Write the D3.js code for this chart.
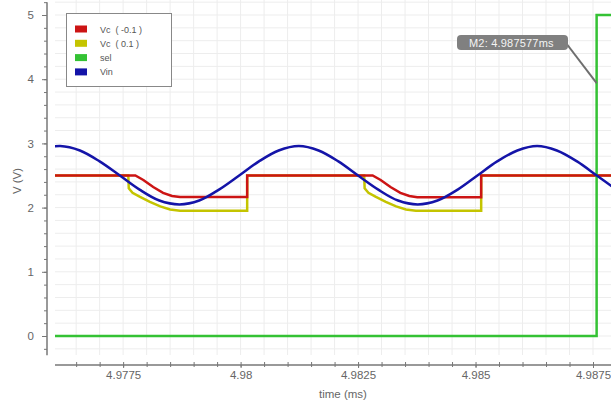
<!DOCTYPE html>
<html>
<head>
<meta charset="utf-8">
<script src="https://cdn.jsdelivr.net/npm/d3@7"></script>
<style>
  body { margin: 0; background: #fff; }
  svg { display: block; font-family: "Liberation Sans", Arial, sans-serif; }
</style>
</head>
<body>
<div id="chart"></div>
<script>
// tick labels
const xMajor = [4.9775, 4.98, 4.9825, 4.985, 4.9875];
const xMajorLabels = ["4.9775", "4.98", "4.9825", "4.985", "4.9875"];
const yMajor = [0, 1, 2, 3, 4, 5];

// series, [time (ms), volts]
const vin = [
  [4.97590, 2.93], [4.97616, 2.96], [4.97658, 2.89], [4.97700, 2.72], [4.97743, 2.5],
  [4.97785, 2.28], [4.97827, 2.11], [4.97870, 2.05], [4.97912, 2.11], [4.97954, 2.28],
  [4.97997, 2.5], [4.98039, 2.72], [4.98081, 2.89], [4.98124, 2.96], [4.98166, 2.89],
  [4.98208, 2.72], [4.98250, 2.5], [4.98293, 2.28], [4.98335, 2.11], [4.98377, 2.05],
  [4.98419, 2.11], [4.98462, 2.28], [4.98504, 2.5], [4.98546, 2.72], [4.98589, 2.89],
  [4.98631, 2.96], [4.98673, 2.89], [4.98716, 2.72], [4.98758, 2.5], [4.98800, 2.28]
];
const vcNeg = [
  [4.97590, 2.5], [4.97776, 2.5], [4.97793, 2.43], [4.97814, 2.32], [4.97835, 2.23],
  [4.97854, 2.18], [4.97871, 2.165], [4.98014, 2.165], [4.98014, 2.5],
  [4.98281, 2.5], [4.98298, 2.43], [4.98319, 2.32], [4.98340, 2.23],
  [4.98359, 2.18], [4.98376, 2.16], [4.98512, 2.16], [4.98512, 2.5], [4.98800, 2.5]
];
const vcPos = [
  [4.97590, 2.5], [4.97761, 2.5], [4.97762, 2.30], [4.97770, 2.23], [4.97785, 2.17],
  [4.97807, 2.09], [4.97829, 2.02], [4.97850, 1.97], [4.97871, 1.95], [4.98014, 1.95],
  [4.98014, 2.5],
  [4.98263, 2.5], [4.98264, 2.30], [4.98272, 2.23], [4.98287, 2.17],
  [4.98309, 2.09], [4.98331, 2.02], [4.98352, 1.97], [4.98373, 1.95], [4.98512, 1.95],
  [4.98512, 2.5], [4.98800, 2.5]
];
const sel = [[4.97590, 0], [4.987577, 0], [4.987577, 5], [4.98800, 5]];

const legendNames = ["Vc  ( -0.1 )", "Vc  ( 0.1 )", "sel", "Vin"];
const colors = ["#cc1414", "#c4c400", "#34c234", "#1414a8"];
const markerTime = 4.987577, markerValue = 3.94;
const markerText = "M2: 4.987577ms";

const W = 611, H = 403;
const svg = d3.select("#chart").append("svg").attr("width", W).attr("height", H);

const x = d3.scaleLinear().domain([4.97605, 4.987883]).range([55, 611]);
const y = d3.scaleLinear().domain([0, 5]).range([336, 15]);

const xMinor = d3.range(4.9765, 4.98790, 0.0005);
const yMinor = d3.range(-0.2, 5.21, 0.2);

// grid
const grid = svg.append("g");
grid.selectAll(".gx").data(xMinor).join("line")
  .attr("x1", d => x(d)).attr("x2", d => x(d))
  .attr("y1", 0).attr("y2", 355)
  .attr("stroke", "#ededed").attr("stroke-width", 1);
grid.selectAll(".gy").data(yMinor).join("line")
  .attr("x1", 55).attr("x2", W)
  .attr("y1", d => y(d)).attr("y2", d => y(d))
  .attr("stroke", "#ededed").attr("stroke-width", 1);

// y axis
svg.append("line").attr("x1", 47).attr("x2", 47)
  .attr("y1", y(5.2)).attr("y2", y(-0.3))
  .attr("stroke", "#777").attr("stroke-width", 1.5);
svg.append("g").attr("transform", "translate(47,0)")
  .call(d3.axisLeft(y).tickValues(yMinor).tickSize(3).tickFormat(""))
  .call(g => g.select(".domain").remove())
  .call(g => g.selectAll("line").attr("stroke", "#777"));
svg.append("g").attr("transform", "translate(47,0)")
  .call(d3.axisLeft(y).tickValues(yMajor).tickSize(5).tickPadding(8).tickFormat(d3.format("d")))
  .call(g => g.select(".domain").remove())
  .call(g => g.selectAll("line").attr("stroke", "#777"))
  .call(g => g.selectAll("text").attr("fill", "#666").attr("font-size", 11.5));

// x axis
svg.append("line").attr("x1", 55).attr("x2", W)
  .attr("y1", 365).attr("y2", 365)
  .attr("stroke", "#777").attr("stroke-width", 1.5);
svg.append("g").attr("transform", "translate(0,362)")
  .call(d3.axisBottom(x).tickValues(xMinor).tickSize(5).tickFormat(""))
  .call(g => g.select(".domain").remove())
  .call(g => g.selectAll("line").attr("stroke", "#777"));
svg.append("g").attr("transform", "translate(0,365)")
  .call(d3.axisBottom(x).tickValues(xMajor).tickSize(3).tickPadding(3)
    .tickFormat((d, i) => xMajorLabels[i]))
  .call(g => g.select(".domain").remove())
  .call(g => g.selectAll("line").attr("stroke", "#777"))
  .call(g => g.selectAll("text").attr("fill", "#666").attr("font-size", 11.5));

svg.append("text").attr("x", 343).attr("y", 398)
  .attr("text-anchor", "middle").attr("font-size", 11.5).attr("fill", "#666")
  .text("time (ms)");
svg.append("text").attr("transform", "translate(21,181) rotate(-90)")
  .attr("text-anchor", "middle").attr("font-size", 11.5).attr("fill", "#666")
  .text("V (V)");

// traces
svg.append("clipPath").attr("id", "clip")
  .append("rect").attr("x", 55).attr("y", 0).attr("width", W - 55).attr("height", 356);
const plot = svg.append("g").attr("clip-path", "url(#clip)");

const line = d3.line().x(d => x(d[0])).y(d => y(d[1]));
const smooth = d3.line().x(d => x(d[0])).y(d => y(d[1])).curve(d3.curveCatmullRom);

plot.append("path").datum(vcPos).attr("d", line)
  .attr("fill", "none").attr("stroke", colors[1]).attr("stroke-width", 2.5);
plot.append("path").datum(vcNeg).attr("d", line)
  .attr("fill", "none").attr("stroke", colors[0]).attr("stroke-width", 2.5);
plot.append("path").datum(sel).attr("d", line)
  .attr("fill", "none").attr("stroke", colors[2]).attr("stroke-width", 2.5);
plot.append("path").datum(vin).attr("d", smooth)
  .attr("fill", "none").attr("stroke", colors[3]).attr("stroke-width", 2.5);

// marker
const mx = x(markerTime), my = y(markerValue);
svg.append("line").attr("x1", 566).attr("y1", 43).attr("x2", mx).attr("y2", my)
  .attr("stroke", "#6e6e6e").attr("stroke-width", 2);
svg.append("rect").attr("x", 457).attr("y", 35).attr("width", 111).attr("height", 15)
  .attr("rx", 4).attr("fill", "#808080");
svg.append("text").attr("x", 469).attr("y", 46.5)
  .attr("font-size", 11).attr("letter-spacing", 0.2).attr("fill", "#f4f4f4").text(markerText);

// legend
const lg = svg.append("g");
lg.append("rect").attr("x", 66.5).attr("y", 13.5).attr("width", 105).attr("height", 73)
  .attr("fill", "#fff").attr("stroke", "#888").attr("stroke-width", 1);
const rows = lg.selectAll(".row").data(legendNames).join("g")
  .attr("transform", (d, i) => `translate(0,${29 + i * 14.3})`);
rows.append("rect").attr("x", 75).attr("y", -3.5).attr("width", 12).attr("height", 7)
  .attr("fill", (d, i) => colors[i]);
rows.append("text").attr("x", 100).attr("y", 3.5)
  .attr("font-size", 9).attr("fill", "#555").style("white-space", "pre")
  .text(d => d);
</script>
</body>
</html>
